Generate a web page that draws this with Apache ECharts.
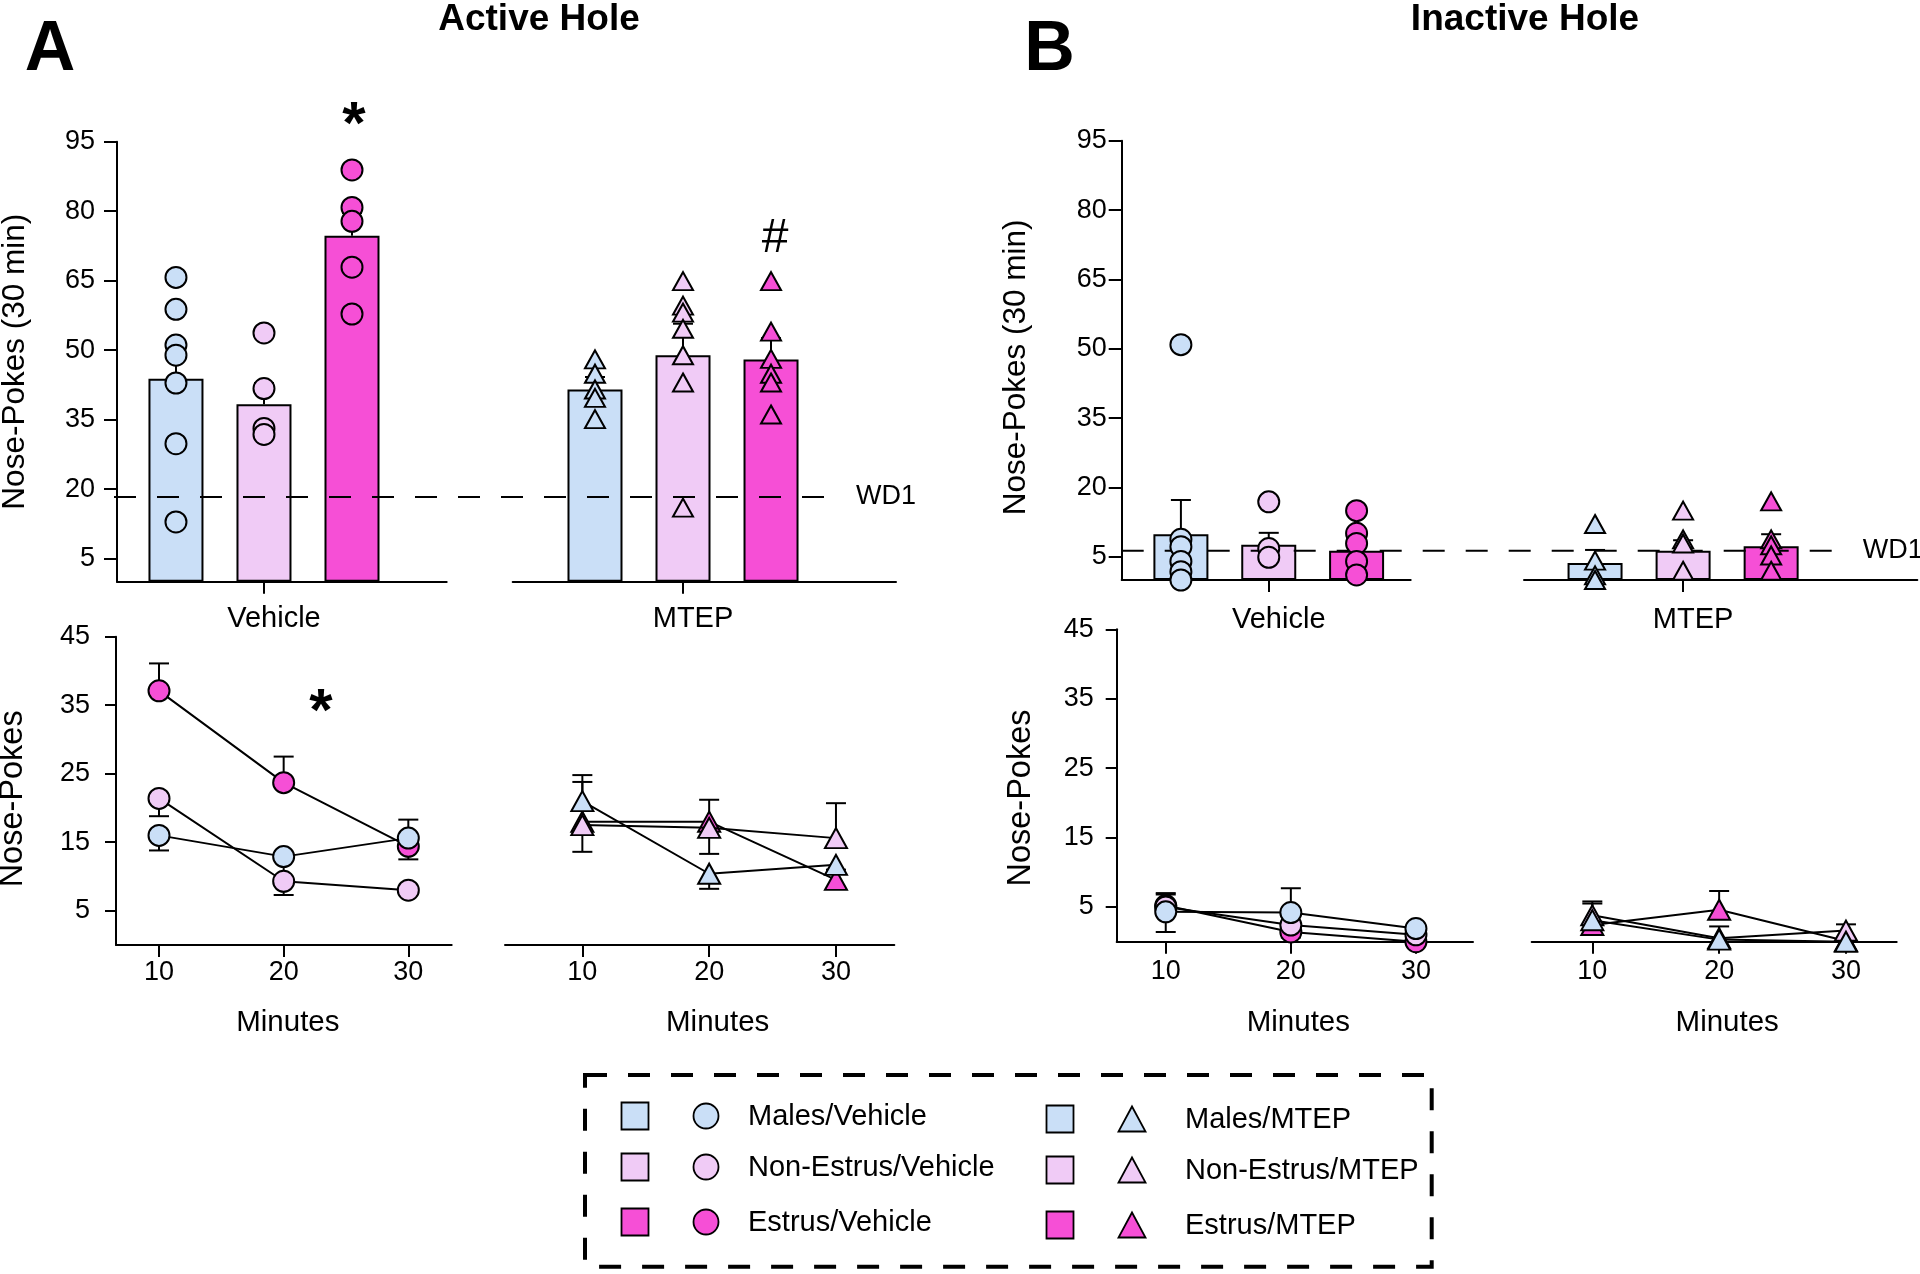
<!DOCTYPE html>
<html><head><meta charset="utf-8">
<script src="https://cdn.jsdelivr.net/npm/echarts@6/dist/echarts.min.js"></script>
<style>html,body{margin:0;padding:0;background:#fff}#c{width:1920px;height:1274px}</style>
</head><body><div id="c"></div>
<script>
// ---------- data ----------
const groups = ['Males', 'Non-Estrus', 'Estrus'];
const treatments = ['Vehicle', 'MTEP'];
const minutes = [10, 20, 30];
const barTicks = [5, 20, 35, 50, 65, 80, 95];
const timeTicks = [5, 15, 25, 35, 45];
const wd1Active = 18.3;
const wd1Inactive = 6.3;

// Active hole, 30-min totals
const activeVehMeans = [43.8, 38.3, 74.7];
const activeVehErrTop = [51.0, 42.9, 79.6];
const activeVehMales = [65.7, 58.8, 51.1, 48.9, 42.9, 29.8, 12.9];
const activeVehNonEstrus = [53.7, 41.7, 33.1, 31.8];
const activeVehEstrus = [88.9, 80.8, 77.8, 67.9, 57.8];
const activeMtepMeans = [41.5, 48.9, 48.0];
const activeMtepErrTop = [44.2, 55.7, 52.6];
const activeMtepMales = [48.0, 44.9, 41.5, 39.7, 35.1];
const activeMtepNonEstrus = [64.9, 59.6, 58.1, 54.6, 48.9, 43.0, 16.0];
const activeMtepEstrus = [64.9, 54.0, 48.1, 44.9, 43.0, 36.1];

// Inactive hole, 30-min totals
const inactVehMeans = [9.9, 7.6, 6.3];
const inactVehErrTop = [17.3, 10.2, 8.9];
const inactVehMales = [50.9, 8.8, 7.2, 4.0, 1.8, 0.0];
const inactVehNonEstrus = [16.9, 6.8, 4.9];
const inactVehEstrus = [15.0, 10.1, 7.9, 4.0, 1.1];
const inactMtepMeans = [3.7, 6.3, 7.3];
const inactMtepErrTop = [6.5, 8.6, 9.9];
const inactMtepMales = [12.1, 4.2, 1.0, 0.0];
const inactMtepNonEstrus = [15.0, 8.8, 7.9, 2.0];
const inactMtepEstrus = [17.0, 8.8, 7.5, 5.3, 2.0];

// Time course (means and error-bar end values)
const actVehTimeMales = [16.0, 12.9, 15.6];
const actVehTimeNonEstrus = [21.4, 9.3, 8.0];
const actVehTimeEstrus = [37.1, 23.7, 14.4];
const actVehErrMales = [13.8, 9.6, 18.3];
const actVehErrNonEstrus = [18.8, 7.3, null];
const actVehErrEstrus = [41.1, 27.5, 12.5];

const actMtepTimeMales = [21.0, 10.4, 11.7];
const actMtepTimeNonEstrus = [17.5, 17.1, 15.6];
const actMtepTimeEstrus = [18.0, 18.0, 9.5];
const actMtepErrMales = [24.8, 8.2, null];
const actMtepErrNonEstrus = [13.6, 13.3, 20.7];
const actMtepErrEstrus = [23.8, 21.2, 11.0];

const inVehTimeMales = [4.3, 4.2, 1.9];
const inVehTimeNonEstrus = [5.0, 2.4, 1.0];
const inVehTimeEstrus = [5.2, 1.4, 0.0];
const inVehErrMales = [1.4, 7.7, null];
const inVehErrNonEstrus = [6.8, null, null];
const inVehErrEstrus = [7.0, 0.6, null];

const inMtepTimeMales = [3.1, 0.3, 0.0];
const inMtepTimeNonEstrus = [3.8, 0.5, 1.6];
const inMtepTimeEstrus = [2.4, 4.6, 0.1];
const inMtepErrMales = [5.5, 2.2, null];
const inMtepErrNonEstrus = [5.8, null, 2.5];
const inMtepErrEstrus = [null, 7.3, null];

// ---------- styles ----------
const COL = ['#cadff7', '#f0cbf6', '#f64fd6'];
const FONT = '"Liberation Sans", Arial, sans-serif';
const BLACK = '#000';
const lineSt = { color: BLACK, width: 2 };

const chart = echarts.init(document.getElementById('c'), null, { renderer: 'canvas' });

const G = { containLabel: false, outerBoundsMode: 'none' };
const grids = [
  { left: 117, top: 141.7, width: 329.7, height: 440 },   // 0 active veh bars
  { left: 512.7, top: 141.7, width: 383.3, height: 440 }, // 1 active mtep bars
  { left: 1121.7, top: 140.7, width: 289, height: 439.3 },// 2 inactive veh bars
  { left: 1524, top: 140.7, width: 393.3, height: 439.3 },// 3 inactive mtep bars
  { left: 116, top: 636.7, width: 335.7, height: 308.3 }, // 4 active veh time
  { left: 505, top: 636.7, width: 389.3, height: 308.3 }, // 5 active mtep time
  { left: 1116.7, top: 629.3, width: 356.3, height: 312.4 }, // 6 inactive veh time
  { left: 1531.7, top: 629.3, width: 365, height: 312.4 }    // 7 inactive mtep time
].map(g => Object.assign({}, G, g));

function barX(gi, min, max, t, margin) {
  return {
    type: 'value', gridIndex: gi, min: min, max: max,
    axisLine: { show: true, onZero: false, lineStyle: lineSt },
    axisTick: { show: true, customValues: [2], length: 12, lineStyle: lineSt },
    axisLabel: { show: true, customValues: [2], formatter: () => treatments[t], margin: margin,
      fontSize: 29, fontFamily: FONT, color: BLACK, padding: [0, 0, 0, 20] },
    splitLine: { show: false }
  };
}
function barY(gi, show, margin, nameGap, namePad) {
  return {
    type: 'value', gridIndex: gi, min: 0, max: 95, show: show,
    axisLine: { show: true, onZero: false, lineStyle: lineSt },
    axisTick: { show: true, customValues: barTicks, length: 13, lineStyle: lineSt },
    axisLabel: { show: true, customValues: barTicks, margin: margin, fontSize: 27, fontFamily: FONT, color: BLACK },
    splitLine: { show: false },
    name: show ? 'Nose-Pokes (30 min)' : '', nameLocation: 'middle', nameGap: nameGap,
    nameTextStyle: { fontSize: 31.5, fontFamily: FONT, color: BLACK, padding: namePad }
  };
}
function timeX(gi, min, max, margin, nameGap, namePadL) {
  return {
    type: 'value', gridIndex: gi, min: min, max: max,
    axisLine: { show: true, onZero: false, lineStyle: lineSt },
    axisTick: { show: true, customValues: minutes, length: 12, lineStyle: lineSt },
    axisLabel: { show: true, customValues: minutes, margin: margin, fontSize: 27, fontFamily: FONT, color: BLACK },
    splitLine: { show: false },
    name: 'Minutes', nameLocation: 'middle', nameGap: nameGap,
    nameTextStyle: { fontSize: 29.5, fontFamily: FONT, color: BLACK, padding: [0, 0, 0, namePadL] }
  };
}
function timeY(gi, show, margin, nameGap, namePad) {
  return {
    type: 'value', gridIndex: gi, min: 0, max: 45, show: show,
    axisLine: { show: true, onZero: false, lineStyle: lineSt },
    axisTick: { show: true, customValues: timeTicks, length: 11, lineStyle: lineSt },
    axisLabel: { show: true, customValues: timeTicks, margin: margin, fontSize: 27, fontFamily: FONT, color: BLACK },
    splitLine: { show: false },
    name: show ? 'Nose-Pokes' : '', nameLocation: 'middle', nameGap: nameGap,
    nameTextStyle: { fontSize: 32.5, fontFamily: FONT, color: BLACK, padding: namePad }
  };
}

const xAxis = [
  barX(0, 0.33, 4.076, 0, 23),
  barX(1, 0.065, 4.42, 1, 23),
  barX(2, 0.326, 3.616, 0, 25),
  barX(3, 0.193, 4.66, 1, 25),
  timeX(4, 6.55, 33.48, 14, 63, 8),
  timeX(5, 3.9, 34.6, 14, 63, 36),
  timeX(6, 6.08, 34.56, 16, 66, 7),
  timeX(7, 5.22, 34.0, 16, 66, 26)
];
const yAxis = [
  barY(0, true, 22, 86, [0, 0, 0, 0]),
  barY(1, false, 22, 86, [0, 0, 0, 0]),
  barY(2, true, 15, 89, [0, 14, 0, 0]),
  barY(3, false, 15, 89, [0, 0, 0, 0]),
  timeY(4, true, 26, 86, [0, 16, 0, 0]),
  timeY(5, false, 26, 86, [0, 0, 0, 0]),
  timeY(6, true, 23, 79, [0, 25, 0, 0]),
  timeY(7, false, 23, 79, [0, 0, 0, 0])
];

const series = [];

function errRender(capHalf) {
  return function (p, api) {
    const a = api.coord([api.value(0), api.value(1)]);
    const b = api.coord([api.value(0), api.value(2)]);
    return { type: 'group', children: [
      { type: 'line', shape: { x1: a[0], y1: a[1], x2: b[0], y2: b[1] }, style: { stroke: BLACK, lineWidth: 2 } },
      { type: 'line', shape: { x1: b[0] - capHalf, y1: b[1], x2: b[0] + capHalf, y2: b[1] }, style: { stroke: BLACK, lineWidth: 2 } }
    ] };
  };
}

function barPanel(gi, means, errTop, pts, symbol, size) {
  series.push({
    type: 'bar', xAxisIndex: gi, yAxisIndex: gi, barWidth: 55, silent: true, z: 2,
    data: means.map((v, i) => ({ value: [i + 1, v], itemStyle: { color: COL[i] } })),
    itemStyle: { borderColor: BLACK, borderWidth: 2 }
  });
  series.push({
    type: 'custom', xAxisIndex: gi, yAxisIndex: gi, z: 3, silent: true, clip: false,
    data: means.map((v, i) => [i + 1, v, errTop[i]]),
    renderItem: errRender(10)
  });
  const d = [];
  pts.forEach((arr, i) => arr.forEach(v => d.push({ value: [i + 1, v], itemStyle: { color: COL[i] } })));
  series.push({
    type: 'scatter', xAxisIndex: gi, yAxisIndex: gi, z: 5, silent: true, clip: false,
    symbol: symbol, symbolSize: size, data: d,
    itemStyle: { borderColor: BLACK, borderWidth: 2, opacity: 1 }
  });
}

function wd1Line(gi, value, extentLeft, extentRight) {
  series.push({
    type: 'custom', xAxisIndex: gi, yAxisIndex: gi, z: 4, silent: true, clip: false,
    data: [[1, value]],
    renderItem: function (p, api) {
      const cs = p.coordSys;
      const y = api.coord([api.value(0), api.value(1)])[1];
      const x1 = cs.x - extentLeft, x2 = cs.x + extentRight;
      return { type: 'group', children: [
        { type: 'line', shape: { x1: x1, y1: y, x2: x2, y2: y }, style: { stroke: BLACK, lineWidth: 2, lineDash: [22, 21] } },
        { type: 'text', x: x2 + 25, y: y, style: { text: 'WD1', font: '27px ' + FONT, fill: BLACK, align: 'left', verticalAlign: 'middle' } }
      ] };
    }
  });
}

function timePanel(gi, vals, errs, symbol, size) {
  const ed = [];
  vals.forEach((arr, i) => arr.forEach((v, k) => { if (errs[i][k] != null) ed.push([minutes[k], v, errs[i][k]]); }));
  series.push({
    type: 'custom', xAxisIndex: gi, yAxisIndex: gi, z: 2, silent: true, clip: false,
    data: ed, renderItem: errRender(10)
  });
  // draw Estrus first, Males last (on top)
  for (let i = vals.length - 1; i >= 0; i--) {
    series.push({
      type: 'line', xAxisIndex: gi, yAxisIndex: gi, z: 3 + (2 - i), silent: true, clip: false,
      data: vals[i].map((v, k) => [minutes[k], v]),
      symbol: symbol, symbolSize: size, showSymbol: true,
      itemStyle: { color: COL[i], borderColor: BLACK, borderWidth: 2 },
      lineStyle: { color: BLACK, width: 2 }
    });
  }
}

barPanel(0, activeVehMeans, activeVehErrTop, [activeVehMales, activeVehNonEstrus, activeVehEstrus], 'circle', 21);
barPanel(1, activeMtepMeans, activeMtepErrTop, [activeMtepMales, activeMtepNonEstrus, activeMtepEstrus], 'triangle', [20, 18]);
barPanel(2, inactVehMeans, inactVehErrTop, [inactVehMales, inactVehNonEstrus, inactVehEstrus], 'circle', 21);
barPanel(3, inactMtepMeans, inactMtepErrTop, [inactMtepMales, inactMtepNonEstrus, inactMtepEstrus], 'triangle', [20, 18]);
wd1Line(0, wd1Active, 3, 714);
wd1Line(2, wd1Inactive, 0, 716);

timePanel(4, [actVehTimeMales, actVehTimeNonEstrus, actVehTimeEstrus], [actVehErrMales, actVehErrNonEstrus, actVehErrEstrus], 'circle', 21);
timePanel(5, [actMtepTimeMales, actMtepTimeNonEstrus, actMtepTimeEstrus], [actMtepErrMales, actMtepErrNonEstrus, actMtepErrEstrus], 'triangle', [22, 20]);
timePanel(6, [inVehTimeMales, inVehTimeNonEstrus, inVehTimeEstrus], [inVehErrMales, inVehErrNonEstrus, inVehErrEstrus], 'circle', 21);
timePanel(7, [inMtepTimeMales, inMtepTimeNonEstrus, inMtepTimeEstrus], [inMtepErrMales, inMtepErrNonEstrus, inMtepErrEstrus], 'triangle', [22, 20]);

// ---------- annotations & legend ----------
const graphic = [];
function txt(x, y, text, font, align) {
  graphic.push({ type: 'text', x: x, y: y, silent: true, z: 100,
    style: { text: text, font: font, fill: BLACK, align: align || 'center', verticalAlign: 'middle' } });
}
txt(50, 50.5, 'A', 'bold 70px ' + FONT);
txt(539, 19.5, 'Active Hole', 'bold 37px ' + FONT);
txt(1049.5, 50.5, 'B', 'bold 70px ' + FONT);
txt(1525, 19.5, 'Inactive Hole', 'bold 37px ' + FONT);
txt(354, 126, '*', 'bold 60px ' + FONT);
txt(775, 239, '#', '48px ' + FONT);
txt(321, 713, '*', 'bold 60px ' + FONT);

graphic.push({ type: 'rect', silent: true, z: 100,
  shape: { x: 585, y: 1075, width: 846.7, height: 191.7 },
  style: { fill: 'none', stroke: BLACK, lineWidth: 4, lineDash: [22, 21] } });

const legSquareX = [635, 1060];
const legMarkX = [706, 1132];
const legTextX = [748, 1185];
const legRowY = [[1116, 1167, 1222], [1119, 1170, 1225]];
for (let c = 0; c < 2; c++) {
  for (let i = 0; i < 3; i++) {
    const cy = legRowY[c][i];
    graphic.push({ type: 'rect', silent: true, z: 100,
      shape: { x: legSquareX[c] - 13.5, y: cy - 13.5, width: 27, height: 27 },
      style: { fill: COL[i], stroke: BLACK, lineWidth: 1.8 } });
    if (c === 0) {
      graphic.push({ type: 'circle', silent: true, z: 100,
        shape: { cx: legMarkX[c], cy: cy, r: 12.5 },
        style: { fill: COL[i], stroke: BLACK, lineWidth: 1.8 } });
    } else {
      const mx = legMarkX[c];
      graphic.push({ type: 'polygon', silent: true, z: 100,
        shape: { points: [[mx, cy - 12.5], [mx + 13.5, cy + 12.5], [mx - 13.5, cy + 12.5]] },
        style: { fill: COL[i], stroke: BLACK, lineWidth: 1.8 } });
    }
    txt(legTextX[c], cy + 1, groups[i] + '/' + treatments[c], '29px ' + FONT, 'left');
  }
}

chart.setOption({
  backgroundColor: '#fff',
  animation: false,
  grid: grids,
  xAxis: xAxis,
  yAxis: yAxis,
  series: series,
  graphic: graphic
});
</script></body></html>
